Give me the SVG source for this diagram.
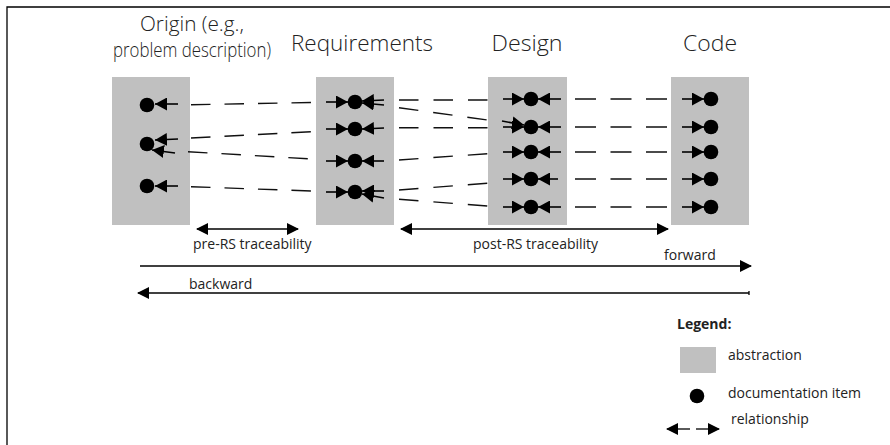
<svg xmlns="http://www.w3.org/2000/svg" width="890" height="445" viewBox="0 0 890 445">
<style>
.box{fill:#c0c0c0}
.dot{fill:#000}
.stub{stroke:#000;stroke-width:1.6;fill:none;marker-end:url(#h)}
.dash{stroke:#111;stroke-width:1.4;fill:none;stroke-dasharray:19.5 14}
.dash2{stroke:#111;stroke-width:1.4;fill:none;stroke-dasharray:19.5 15}
.dash3{stroke:#111;stroke-width:1.4;fill:none;stroke-dasharray:21 14.5}
.ln{stroke:#000;stroke-width:1.3;fill:none}
.title{font-family:"Open Sans","Noto Sans",sans-serif;font-weight:300;font-size:22px;fill:#222;text-anchor:middle}
.title2{font-family:"Open Sans","Noto Sans",sans-serif;font-weight:300;font-size:20px;fill:#222;text-anchor:middle}
.lbl{font-family:"Open Sans","Noto Sans",sans-serif;font-size:14px;fill:#222}
.bold{font-weight:bold}
</style>
<defs>
<marker id="h" viewBox="0 0 12 13" refX="12" refY="6.5" markerWidth="12" markerHeight="13" markerUnits="userSpaceOnUse" orient="auto"><path d="M0,0 L12,6.5 L0,13 z" fill="#000"/></marker>
<marker id="hb" viewBox="0 0 12 12" refX="11" refY="6" markerWidth="12" markerHeight="12" markerUnits="userSpaceOnUse" orient="auto"><path d="M0,0 L12,6 L0,12 z" fill="#000"/></marker>
<marker id="hs" viewBox="0 0 12 12" refX="11" refY="6" markerWidth="12" markerHeight="12" markerUnits="userSpaceOnUse" orient="auto-start-reverse"><path d="M0,0 L12,6 L0,12 z" fill="#000"/></marker>
</defs>
<rect width="890" height="445" fill="#fff"/>
<path d="M7,445 V7 H890" class="ln" stroke-width="1.5"/>

<text class="title2" x="192" y="31" textLength="104" lengthAdjust="spacingAndGlyphs">Origin (e.g.,</text>
<text class="title2" x="192" y="57" textLength="158" lengthAdjust="spacingAndGlyphs">problem description)</text>
<text class="title" x="362" y="51" textLength="142" lengthAdjust="spacingAndGlyphs">Requirements</text>
<text class="title" x="527" y="51" textLength="71" lengthAdjust="spacingAndGlyphs">Design</text>
<text class="title" x="710" y="51" textLength="54" lengthAdjust="spacingAndGlyphs">Code</text>

<g id="origin">
<rect class="box" x="112" y="77" width="78" height="148"/>
<circle class="dot" cx="147" cy="105" r="7.3"/>
<circle class="dot" cx="147" cy="144" r="7.3"/>
<circle class="dot" cx="147" cy="186" r="7.3"/>
<line class="stub" x1="178" y1="104" x2="155" y2="104"/>
<line class="stub" x1="178" y1="139" x2="155" y2="140"/>
<line class="stub" x1="175" y1="153" x2="152" y2="150"/>
<line class="stub" x1="178" y1="186" x2="155" y2="186"/>
</g>

<g id="requirements">
<rect class="box" x="316" y="77" width="78" height="148"/>
<circle class="dot" cx="355" cy="102" r="7.3"/>
<circle class="dot" cx="355" cy="129" r="7.3"/>
<circle class="dot" cx="355" cy="161" r="7.3"/>
<circle class="dot" cx="355" cy="192" r="7.3"/>
<line class="stub" x1="326" y1="102" x2="348" y2="102"/>
<line class="stub" x1="326" y1="129" x2="348" y2="129"/>
<line class="stub" x1="326" y1="161" x2="348" y2="161"/>
<line class="stub" x1="326" y1="192" x2="348" y2="192"/>
<line class="stub" x1="384" y1="100" x2="362" y2="101"/>
<line class="stub" x1="384" y1="105" x2="362" y2="103"/>
<line class="stub" x1="384" y1="128" x2="362" y2="129"/>
<line class="stub" x1="384" y1="161" x2="362" y2="161"/>
<line class="stub" x1="384" y1="191" x2="362" y2="191"/>
<line class="stub" x1="384" y1="198" x2="362" y2="194"/>
</g>

<g id="design">
<rect class="box" x="488" y="77" width="79" height="148"/>
<circle class="dot" cx="531" cy="99" r="7.3"/>
<circle class="dot" cx="531" cy="127" r="7.3"/>
<circle class="dot" cx="531" cy="152" r="7.3"/>
<circle class="dot" cx="531" cy="179" r="7.3"/>
<circle class="dot" cx="531" cy="207" r="7.3"/>
<line class="stub" x1="503" y1="99" x2="524" y2="99"/>
<line class="stub" x1="502" y1="121" x2="524" y2="125"/>
<line class="stub" x1="503" y1="127" x2="524" y2="127"/>
<line class="stub" x1="503" y1="152" x2="524" y2="152"/>
<line class="stub" x1="503" y1="179" x2="524" y2="179"/>
<line class="stub" x1="503" y1="207" x2="524" y2="207"/>
<line class="stub" x1="561" y1="99" x2="538" y2="99"/>
<line class="stub" x1="561" y1="127" x2="538" y2="127"/>
<line class="stub" x1="561" y1="152" x2="538" y2="152"/>
<line class="stub" x1="558" y1="179" x2="538" y2="179"/>
<line class="stub" x1="561" y1="207" x2="538" y2="207"/>
</g>

<g id="code">
<rect class="box" x="671" y="77" width="78" height="148"/>
<circle class="dot" cx="711" cy="99" r="7.3"/>
<circle class="dot" cx="711" cy="127" r="7.3"/>
<circle class="dot" cx="711" cy="152" r="7.3"/>
<circle class="dot" cx="711" cy="179" r="7.3"/>
<circle class="dot" cx="711" cy="207" r="7.3"/>
<line class="stub" x1="682" y1="99" x2="704" y2="99"/>
<line class="stub" x1="682" y1="127" x2="704" y2="127"/>
<line class="stub" x1="682" y1="152" x2="704" y2="152"/>
<line class="stub" x1="682" y1="179" x2="704" y2="179"/>
<line class="stub" x1="682" y1="207" x2="704" y2="207"/>
</g>

<g id="connectors">
<line class="dash" x1="191" y1="104.7" x2="312" y2="102.5"/>
<line class="dash" x1="191" y1="138" x2="312" y2="131.7"/>
<line class="dash" x1="188" y1="151.7" x2="312" y2="159"/>
<line class="dash" x1="191" y1="186.7" x2="312" y2="191"/>

<line class="dash2" x1="399" y1="100" x2="487.5" y2="100"/>
<line class="dash2" x1="399" y1="107.7" x2="487.5" y2="120"/>
<line class="dash2" x1="399" y1="127.7" x2="487.5" y2="127.7"/>
<line class="dash2" x1="399" y1="160" x2="487.5" y2="153.7"/>
<line class="dash2" x1="399" y1="190" x2="487.5" y2="183.3"/>
<line class="dash2" x1="399" y1="199.3" x2="487.5" y2="206"/>

<line class="dash3" x1="575" y1="99" x2="667" y2="99"/>
<line class="dash3" x1="575" y1="127" x2="667" y2="127"/>
<line class="dash3" x1="575" y1="152" x2="667" y2="152"/>
<line class="dash3" x1="575" y1="179" x2="667" y2="179"/>
<line class="dash3" x1="575" y1="207" x2="667" y2="207"/>

<line class="ln" x1="197" y1="229" x2="298" y2="229" marker-start="url(#hs)" marker-end="url(#hb)"/>
<line class="ln" x1="401" y1="229" x2="668" y2="229" marker-start="url(#hs)" marker-end="url(#hb)"/>
<line class="ln" x1="140" y1="266" x2="751" y2="266" marker-end="url(#hb)"/>
<line class="ln" x1="749" y1="293" x2="138" y2="293" marker-end="url(#hb)"/>
<line class="ln" x1="749" y1="291" x2="749" y2="295"/>
</g>

<text class="lbl" x="193" y="249">pre-RS traceability</text>
<text class="lbl" x="473" y="249">post-RS traceability</text>
<text class="lbl" x="664" y="260">forward</text>
<text class="lbl" x="189" y="289">backward</text>

<g id="legend">
<text class="lbl bold" x="677" y="329">Legend:</text>
<rect class="box" x="680" y="347" width="36" height="26"/>
<text class="lbl" x="728" y="360">abstraction</text>
<circle class="dot" cx="697" cy="396" r="7.3"/>
<text class="lbl" x="728" y="398">documentation item</text>
<line class="ln" x1="690" y1="429" x2="667" y2="429" stroke-width="1.6" marker-end="url(#hb)"/>
<line class="ln" x1="696" y1="429" x2="719" y2="429" stroke-width="1.6" marker-end="url(#hb)"/>
<text class="lbl" x="731" y="424">relationship</text>
</g>
</svg>
